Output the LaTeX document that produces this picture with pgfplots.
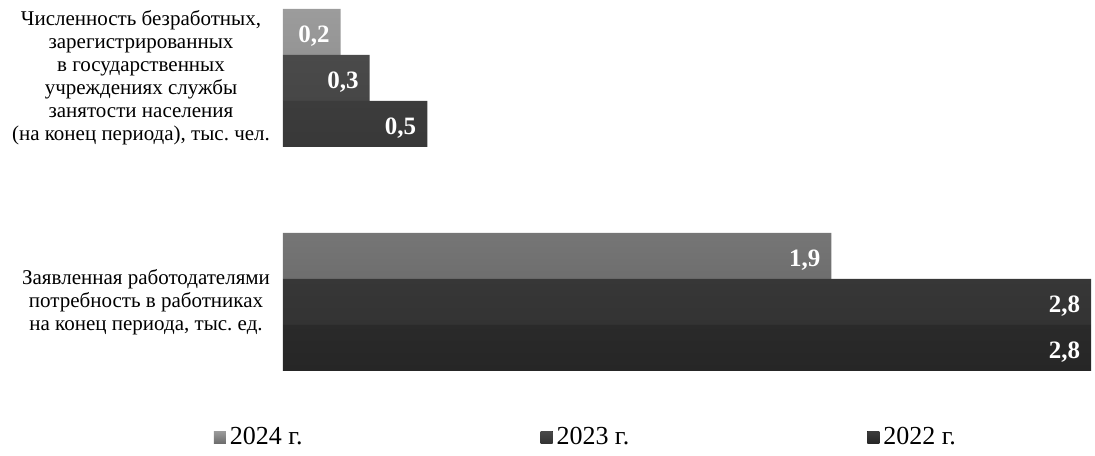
\documentclass[border=0pt]{standalone}
\usepackage{fontspec}
\setmainfont{Liberation Serif}
\usepackage{pgfplots}
\pgfplotsset{compat=1.18}
\definecolor{c24t}{HTML}{9C9C9C}
\definecolor{c24b}{HTML}{6E6E6E}
\definecolor{c23t}{HTML}{4A4A4A}
\definecolor{c23b}{HTML}{333333}
\definecolor{c22t}{HTML}{3C3C3C}
\definecolor{c22b}{HTML}{262626}
\begin{document}
\frenchspacing
\begin{tikzpicture}
\begin{axis}[
  x=144.3pt, y=112pt,
  xmin=0, xmax=2.81, ymin=-0.652, ymax=1.348,
  clip=false,
  axis line style={draw=none},
  major tick length=0pt,
  xtick=\empty,
  ytick={0,1},
  yticklabels={{Заявленная работодателями\\потребность в работниках\\на конец периода, тыс. ед.},{Численность безработных,\\зарегистрированных\\в государственных\\учреждениях службы\\занятости населения\\(на конец периода), тыс. чел.}},
  yticklabel style={align=center, xshift=-3pt, font=\fontsize{10.5}{11.5}\selectfont},
  xbar, bar width=23pt,
  nodes near coords,
  nodes near coords style={anchor=east, xshift=-2pt, yshift=-2pt, text=white, font=\bfseries\fontsize{12.5}{12.5}\selectfont},
  /pgf/number format/use comma,
  /pgf/number format/fixed,
  /pgf/number format/fixed zerofill,
  /pgf/number format/precision=1,
  /pgf/number format/assume math mode=true,
  legend style={draw=none, fill=none, at={(axis cs:-0.262,-0.603)}, anchor=west, legend columns=3, font=\fontsize{13}{13}\selectfont, /tikz/every even column/.append style={column sep=117pt}},
  legend image code/.code={\fill[#1] (0pt,-3pt) rectangle (6pt,3pt);},
]
\addplot[draw=none, top color=c24t, bottom color=c24b, bar shift=23pt] coordinates {(1.9,0) (0.2,1)};
\addplot[draw=none, top color=c23t, bottom color=c23b, bar shift=0pt] coordinates {(2.8,0) (0.3,1)};
\addplot[draw=none, top color=c22t, bottom color=c22b, bar shift=-23pt] coordinates {(2.8,0) (0.5,1)};
\legend{2024 г., 2023 г., 2022 г.}
\path (axis cs:-0.9806,-0.652) rectangle (axis cs:2.8136,1.348);
\end{axis}
\end{tikzpicture}
\end{document}
